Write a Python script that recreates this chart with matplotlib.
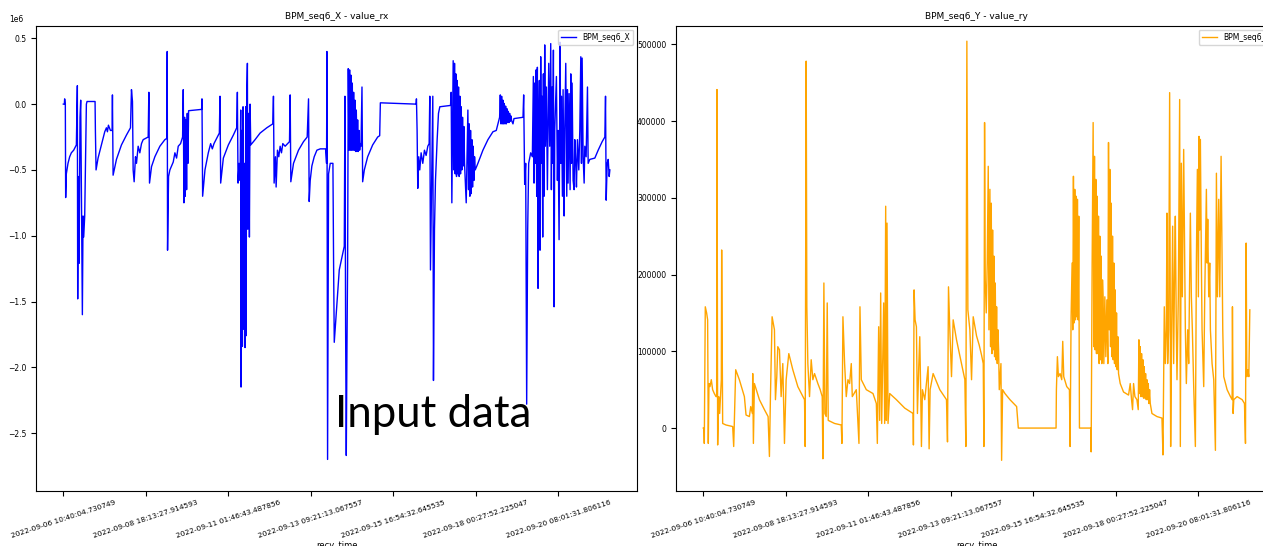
import numpy as np
import matplotlib
matplotlib.use("Agg")
import matplotlib.pyplot as plt

# sample index of each reading along recv_time
rx_idx = [0, 122, 162, 243, 284, 365, 567, 770, 972, 1256, 1580, 1701, 1742, 1823, 1904, 2025, 2106, 2228, 2309, 2390,
          2471, 2592, 2795, 2876, 3848, 3888, 3969, 4212, 4617, 5022, 5225, 5346, 5468, 5711, 5913, 5954, 6035, 6440, 7047, 7655,
          8141, 8262, 8384, 8465, 8586, 8748, 8870, 9072, 9275, 9477, 9680, 10287, 10368, 10449, 10692, 11097, 11705, 12312, 12555, 12596,
          12636, 12758, 12920, 13122, 13325, 13527, 13730, 13932, 14216, 14459, 14540, 14621, 14702, 14783, 14864, 14945, 15026, 15107, 15188, 16767,
          16808, 16889, 17172, 17577, 17780, 17861, 18063, 18266, 18590, 18914, 18995, 19076, 19400, 20007, 20615, 21020, 21101, 21182, 21303, 21425,
          21506, 21546, 21627, 21708, 21789, 21870, 21951, 22032, 22113, 22154, 22235, 22316, 22356, 22478, 22559, 22640, 22721, 23247, 23855, 24665,
          25394, 25475, 25556, 25718, 25799, 25961, 26123, 26285, 26447, 26609, 26892, 27419, 27500, 27581, 27905, 28512, 29120, 29565, 29727, 29808,
          29930, 30132, 30416, 30740, 31145, 31793, 31914, 31955, 32036, 32157, 32360, 32684, 32765, 32846, 33453, 34061, 34142, 34223, 34304, 34385,
          34466, 34547, 34628, 34709, 34790, 34871, 34952, 35033, 35114, 35195, 35276, 35357, 35438, 35519, 35600, 35681, 35762, 35843, 35924, 36005,
          36086, 36207, 36288, 36491, 36896, 37503, 38111, 38354, 38435, 42768, 42809, 42890, 42971, 43092, 43214, 43376, 43578, 43781, 43983, 44186,
          44348, 44429, 44510, 44672, 44793, 44874, 44996, 45117, 45320, 45482, 45644, 46940, 47021, 47102, 47183, 47264, 47345, 47426, 47507, 47588,
          47669, 47750, 47831, 47912, 47993, 48074, 48155, 48236, 48317, 48398, 48479, 48560, 48641, 48843, 48965, 49046, 49127, 49208, 49289, 49370,
          49451, 49532, 49613, 49694, 49775, 49856, 49937, 50261, 50868, 51476, 52083, 52488, 52812, 52893, 52974, 53055, 53136, 53217, 53298, 53379,
          53460, 53541, 53622, 53703, 53784, 53865, 53946, 54027, 54108, 54189, 54270, 54351, 54513, 54634, 55728, 55809, 55931, 56052, 56174, 56295,
          56417, 56660, 56862, 56984, 57065, 57146, 57227, 57308, 57389, 57470, 57551, 57632, 57713, 57794, 57875, 57956, 58037, 58118, 58199, 58280,
          58361, 58442, 58564, 58685, 58847, 58968, 59090, 59171, 59252, 59333, 59414, 59495, 59576, 59697, 59778, 59900, 59981, 60102, 60224, 60305,
          60386, 60507, 60588, 60710, 60791, 60912, 61034, 61115, 61196, 61317, 61439, 61520, 61601, 61682, 61803, 61925, 62006, 62127, 62208, 62330,
          62492, 62613, 62735, 62816, 62897, 63018, 63140, 63221, 63383, 63545, 63626, 63828, 64436, 64841, 65327, 65651, 65732, 65813, 65934, 66056,
          66177, 66258]

# value_rx, in units of 1e6
rx_mega = [0.0, 0.0, 0.04, 0.0, -0.71, -0.53, -0.45, -0.40, -0.37, -0.35, -0.31, 0.14, -1.48, -0.55, -1.21, -0.10, 0.03, -0.95, -1.60, -0.85,
           -1.01, -0.85, 0.0, 0.02, 0.02, -0.20, -0.50, -0.41, -0.31, -0.21, -0.18, -0.21, -0.16, -0.20, -0.20, 0.07, -0.54, -0.42, -0.31, -0.235,
           -0.18, 0.11, 0.02, -0.50, -0.59, -0.40, -0.45, -0.32, -0.37, -0.30, -0.27, -0.25, 0.09, -0.60, -0.475, -0.40, -0.32, -0.27, -0.26, 0.40,
           -1.11, -0.55, -0.50, -0.47, -0.44, -0.37, -0.41, -0.32, -0.30, -0.25, 0.11, -0.75, -0.10, -0.70, -0.12, -0.65, -0.07, -0.45, -0.05, -0.04,
           0.04, -0.70, -0.50, -0.37, -0.32, -0.30, -0.34, -0.30, -0.26, -0.22, 0.06, -0.60, -0.41, -0.31, -0.235, -0.18, 0.09, -0.60, -0.45, -0.58,
           -0.045, -2.15, -0.20, -1.84, -0.02, -1.71, -0.45, -1.85, -0.02, -1.76, 0.06, 0.31, -0.95, -0.07, -1.01, 0.0, -0.31, -0.27, -0.22, -0.18,
           -0.15, 0.06, -0.60, -0.40, -0.63, -0.35, -0.40, -0.32, -0.37, -0.30, -0.32, -0.285, 0.07, -0.59, -0.45, -0.35, -0.285, -0.25, 0.04, -0.74,
           -0.58, -0.47, -0.40, -0.35, -0.34, -0.34, -0.45, 0.40, -2.70, -0.53, -0.45, -0.45, -1.21, -1.81, -1.26, -1.08, 0.06, -1.71, -2.67, -1.86,
           -1.21, 0.27, -0.35, 0.26, -0.35, 0.22, -0.35, 0.16, -0.35, 0.09, -0.35, 0.03, -0.36, -0.045, -0.36, -0.12, -0.36, -0.20, -0.35, -0.30,
           -0.32, 0.13, -0.59, -0.50, -0.40, -0.31, -0.25, -0.24, 0.01, 0.0, 0.04, -0.20, -0.64, -0.40, -0.50, -0.37, -0.45, -0.35, -0.39, -0.32,
           -0.30, 0.06, -1.26, -0.50, 0.06, -2.10, -0.95, -0.58, -0.27, -0.07, -0.02, -0.01, 0.09, -0.75, -0.20, 0.33, -0.50, 0.31, -0.53, 0.23,
           -0.55, 0.18, -0.53, 0.13, -0.55, 0.06, -0.53, -0.02, -0.50, -0.10, -0.47, -0.17, -0.45, -0.75, -0.35, -0.045, -0.65, -0.15, -0.70, -0.20,
           -0.68, -0.27, -0.63, -0.32, -0.58, -0.40, -0.50, -0.45, -0.35, -0.27, -0.21, -0.20, -0.12, -0.10, 0.07, -0.15, 0.06, -0.15, 0.03, -0.15,
           0.005, -0.15, -0.015, -0.15, -0.035, -0.14, -0.055, -0.14, -0.07, -0.13, -0.09, -0.126, -0.15, -0.11, -0.10, 0.07, -0.61, -0.45, -2.28, -0.96,
           -0.45, -0.37, -0.40, 0.21, -0.60, 0.16, -0.45, 0.26, -0.70, 0.28, -1.40, -0.20, 0.18, -1.11, 0.36, -0.45, 0.06, -1.01, 0.23, -0.70,
           0.45, -0.32, 0.13, -0.65, 0.31, -0.32, 0.46, -0.65, 0.13, -0.45, 0.41, -1.54, -0.20, 0.06, 0.21, -0.58, -0.20, -1.03, 0.47, -0.45,
           0.06, -0.70, 0.11, -0.85, -0.20, 0.31, -0.70, 0.11, -0.60, 0.08, -0.65, 0.23, -0.45, 0.16, -0.58, -0.65, -0.27, -0.45, -0.63, -0.27,
           -0.50, -0.20, 0.36, -0.45, 0.35, -0.40, -0.60, -0.32, -0.40, 0.13, -0.45, -0.42, -0.41, -0.35, -0.285, -0.25, 0.06, -0.73, -0.45, -0.42,
           -0.55, -0.50]

ry_idx = [0, 81, 122, 243, 405, 527, 608, 689, 810, 972, 1134, 1337, 1539, 1620, 1661, 1742, 1863, 1985, 2187, 2228,
          2349, 2754, 3564, 3686, 3807, 3929, 4374, 4982, 5184, 5589, 5751, 5954, 5994, 6075, 6197, 6804, 7412, 7857, 8019, 8141,
          8343, 8627, 8748, 8910, 9032, 9234, 9437, 9639, 9842, 10044, 10368, 10854, 11462, 12272, 12353, 12474, 12555, 12677, 12879, 13082,
          13284, 13487, 13892, 14175, 14418, 14499, 14621, 14742, 14904, 15026, 15147, 15917, 16727, 16808, 16929, 17132, 17334, 17537, 17739, 17942,
          18063, 18549, 18873, 18995, 19157, 19764, 20574, 20979, 21101, 21263, 21384, 21506, 21627, 21749, 21870, 21992, 22113, 22194, 22275, 22397,
          22599, 23409, 24422, 25434, 25475, 25556, 25677, 25839, 25961, 26123, 26244, 26366, 26447, 26568, 26852, 27054, 27257, 27378, 27500, 27864,
          28674, 29484, 29606, 29727, 29889, 30092, 30294, 30699, 31307, 31712, 31833, 31955, 32076, 32319, 32522, 32724, 33129, 33453, 33737, 33939,
          34020, 34101, 34182, 34304, 34425, 34547, 34628, 34749, 34830, 34911, 34992, 35073, 35154, 35235, 35316, 35397, 35478, 35559, 35640, 35721,
          35802, 35883, 36086, 36167, 36288, 36572, 37179, 37989, 38192, 42768, 42809, 42930, 43052, 43254, 43457, 43578, 43700, 44064, 44388, 44469,
          44591, 44712, 44793, 44874, 44955, 45036, 45117, 45198, 45279, 45360, 45441, 45522, 45603, 46980, 47021, 47142, 47264, 47345, 47426, 47507,
          47588, 47669, 47750, 47831, 47912, 47993, 48074, 48155, 48236, 48317, 48398, 48479, 48560, 48682, 48803, 48925, 49046, 49127, 49208, 49289,
          49370, 49451, 49532, 49613, 49694, 49775, 49856, 49937, 50018, 50099, 50180, 50261, 50342, 50545, 50949, 51557, 51759, 51921, 52043, 52164,
          52326, 52569, 52731, 52812, 52893, 52974, 53055, 53136, 53217, 53298, 53379, 53460, 53541, 53622, 53703, 53784, 53865, 53946, 54027, 54108,
          54189, 54392, 54999, 55607, 55728, 55890, 56012, 56133, 56214, 56295, 56417, 56538, 56660, 56781, 56903, 57024, 57146, 57227, 57348, 57429,
          57591, 57753, 57834, 57956, 58077, 58239, 58361, 58442, 58563, 58725, 58847, 59049, 59171, 59292, 59454, 59657, 59778, 59900, 60021, 60102,
          60183, 60264, 60386, 60467, 60588, 60669, 60791, 60912, 60993, 61074, 61155, 61277, 61398, 61479, 61682, 61884, 62087, 62208, 62330, 62492,
          62613, 62775, 62897, 62978, 63099, 63504, 63909, 64112, 64152, 64233, 64314, 64719, 65327, 65610, 65732, 65813, 65894, 66016, 66137, 66258]

# value_ry, in thousands
ry_k = [0, 0, -20, 158, 150, 141, -20, 58, 54, 63, 50, 45, 41, 41, 441, -22, 41, 19, 63, 232,
        6, 4, 2, -24, 24, 76, 63, 41, 17, 15, 28, 19, 71, -20, 58, 37, 24, 15, -37, 41,
        145, 128, 37, 67, 106, 102, 41, 84, -20, 63, 97, 76, 54, 37, -24, 478, 158, 84, 41, 89,
        63, 71, 58, 50, 41, -40, 189, 19, 15, 163, 10, 6, 4, -20, 145, 84, 41, 63, 58, 84,
        41, 50, -20, 158, 63, 50, 45, 32, -20, 132, 10, 176, 6, 84, 163, 6, 289, 10, 267, 6,
        45, 37, 26, 19, -22, 180, 141, 132, 19, 80, 119, 41, -24, 50, 37, 58, 80, -27, 50, 71,
        50, 37, -18, 184, 128, 67, 141, 115, 84, 63, -24, 504, 154, 128, 63, 145, 120, 108, 95, 84,
        -24, 398, 193, 150, 215, 341, 128, 311, 106, 293, 97, 258, 102, 224, 93, 189, 89, 158, 84, 128,
        102, 50, 84, -42, 50, 45, 37, 28, 0, 0, 50, 93, 67, 71, 63, 113, 67, 54, 50, -24,
        145, 215, 128, 328, 137, 311, 141, 302, 145, 298, 141, 276, 0, 0, -31, 215, 398, 106, 354, 102,
        324, 97, 302, 97, 276, 84, 250, 89, 224, 84, 193, 167, 84, 171, 93, 167, 84, 372, 128, 337,
        106, 293, 93, 250, 89, 215, 84, 180, 80, 150, 76, 119, 71, 58, 47, 43, 58, 37, 24, 58,
        41, 37, 24, 115, 45, 106, 41, 97, 41, 89, 39, 80, 39, 71, 37, 63, 37, 58, 32, 50,
        32, 19, 15, 13, -35, 158, 84, 128, 280, 84, 128, 437, -24, 128, 263, 84, 215, 276, 128, 63,
        171, 428, -24, 345, 171, 363, 215, 128, 58, 128, 84, 280, 171, 128, 54, -24, 215, 337, 171, 380,
        258, 376, 215, 128, 84, 54, 171, 258, 311, 215, 272, 171, 215, 128, 84, 63, -29, 332, 171, 298,
        171, 354, 215, 128, 67, 50, 41, 37, 158, 19, 37, 41, 37, 32, -20, 241, 67, 76, 67, 154]

tick_pos = [0, 10000, 20000, 30000, 40000, 50000, 60000]
tick_labels = ["2022-09-06 10:40:04.730749", "2022-09-08 18:13:27.914593",
               "2022-09-11 01:46:43.487856", "2022-09-13 09:21:13.067557",
               "2022-09-15 16:54:32.645535", "2022-09-18 00:27:52.225047",
               "2022-09-20 08:01:31.806116"]

rx_val = np.array(rx_mega) * 1e6
ry_val = np.array(ry_k) * 1e3

plt.rcParams['font.size'] = 5.5

fig = plt.figure(figsize=(12.63, 5.46), dpi=100)
ax1 = fig.add_axes([0.0285, 0.1007, 0.476, 0.852])
ax2 = fig.add_axes([0.5352, 0.1007, 0.476, 0.852])

ax1.plot(rx_idx, rx_val, color='blue', lw=1.0, label='BPM_seq6_X')
ax1.set_title('BPM_seq6_X - value_rx', fontsize=6.5, pad=5)
ax1.set_ylim(-2.94e6, 0.595e6)
ax1.yaxis.get_offset_text().set_x(-0.045)

ax2.plot(ry_idx, ry_val, color='orange', lw=1.0, label='BPM_seq6_Y')
ax2.set_title('BPM_seq6_Y - value_ry', fontsize=6.5, pad=5)
ax2.set_ylim(-82000, 524000)

for ax in (ax1, ax2):
    ax.set_xticks(tick_pos)
    ax.set_xticklabels(tick_labels, rotation=18, fontsize=5.3)
    ax.tick_params(axis='x', pad=2.5)
    ax.set_xlabel('recv_time', fontsize=6, labelpad=1)
    ax.legend(loc='upper right', fontsize=5.5)

fig.text(0.265, 0.218, 'Input data', fontsize=31.5, family='Lato', color='black')

fig.savefig('out.png')
